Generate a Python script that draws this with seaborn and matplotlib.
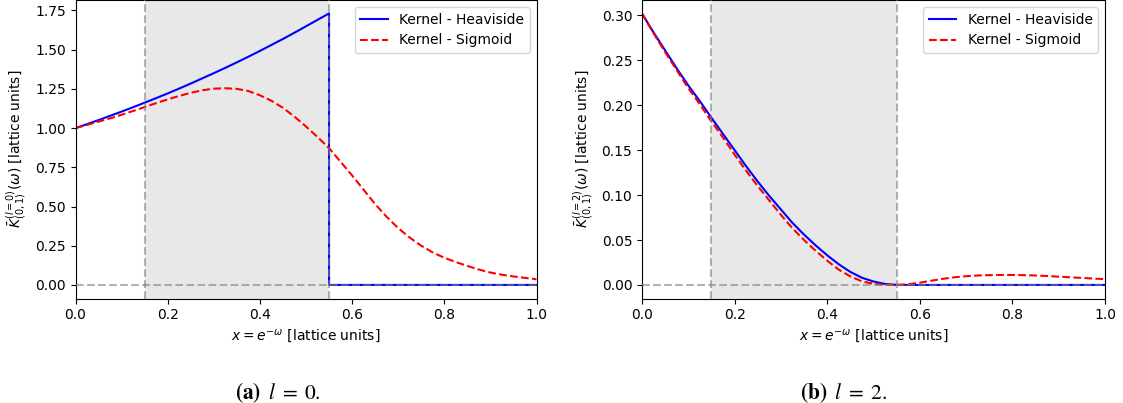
import numpy as np
import pandas as pd
import matplotlib
matplotlib.use("Agg")
import matplotlib.pyplot as plt
import seaborn as sns

# ---- data ----
x_grid = [0.000, 0.025, 0.050, 0.075, 0.100, 0.125, 0.150, 0.175, 0.200, 0.225,
          0.250, 0.275, 0.300, 0.325, 0.350, 0.375, 0.400, 0.425, 0.450, 0.475,
          0.500, 0.525, 0.550, 0.575, 0.600, 0.625, 0.650, 0.675, 0.700, 0.725,
          0.750, 0.775, 0.800, 0.825, 0.850, 0.875, 0.900, 0.925, 0.950, 0.975,
          1.000]

# l = 0, Heaviside kernel (drops to zero at x = 0.55)
x_h0 = [0.000, 0.025, 0.050, 0.075, 0.100, 0.125, 0.150, 0.175, 0.200, 0.225,
        0.250, 0.275, 0.300, 0.325, 0.350, 0.375, 0.400, 0.425, 0.450, 0.475,
        0.500, 0.525, 0.550, 0.550, 0.600, 0.700, 0.800, 0.900, 1.000]
y_h0 = [1.000, 1.025, 1.051, 1.078, 1.105, 1.133, 1.162, 1.191, 1.221, 1.252,
        1.284, 1.317, 1.350, 1.384, 1.419, 1.455, 1.492, 1.530, 1.568, 1.608,
        1.649, 1.690, 1.731, 0.000, 0.000, 0.000, 0.000, 0.000, 0.000]

# l = 0, Sigmoid kernel
y_s0 = [1.000, 1.020, 1.041, 1.062, 1.085, 1.109, 1.134, 1.159, 1.183, 1.205,
        1.225, 1.241, 1.251, 1.254, 1.250, 1.236, 1.209, 1.174, 1.129, 1.073,
        1.010, 0.943, 0.872, 0.785, 0.698, 0.607, 0.515, 0.434, 0.362, 0.302,
        0.250, 0.207, 0.173, 0.146, 0.121, 0.098, 0.079, 0.065, 0.054, 0.045,
        0.036]

# l = 2, Heaviside kernel
x_h2 = [0.000, 0.025, 0.050, 0.075, 0.100, 0.125, 0.150, 0.175, 0.200, 0.225,
        0.250, 0.275, 0.300, 0.325, 0.350, 0.375, 0.400, 0.425, 0.450, 0.475,
        0.500, 0.525, 0.550, 0.600, 0.700, 0.800, 0.900, 1.000]
y_h2 = [0.302, 0.281, 0.261, 0.241, 0.222, 0.2045, 0.186, 0.168, 0.150, 0.132,
        0.115, 0.099, 0.084, 0.069, 0.056, 0.044, 0.033, 0.023, 0.0145, 0.008,
        0.0038, 0.0011, 0.000, 0.000, 0.000, 0.000, 0.000, 0.000]

# l = 2, Sigmoid kernel
y_s2 = [0.302, 0.280, 0.259, 0.239, 0.219, 0.201, 0.182, 0.164, 0.145, 0.127,
        0.110, 0.094, 0.078, 0.063, 0.050, 0.038, 0.027, 0.017, 0.0095, 0.004,
        0.0012, 0.0002, 0.000, 0.0008, 0.0025, 0.0047, 0.0068, 0.0085, 0.0097, 0.0105,
        0.0109, 0.0111, 0.0111, 0.0109, 0.0105, 0.0099, 0.0092, 0.0085, 0.0078, 0.0071,
        0.0064]

span = (0.15, 0.55)
labels = ["Kernel - Heaviside", "Kernel - Sigmoid"]
ylabels = [r"$\bar{K}^{(l=0)}_{(0,1)}(\omega)$ [lattice units]",
           r"$\bar{K}^{(l=2)}_{(0,1)}(\omega)$ [lattice units]"]
xlabel = r"$x = e^{-\omega}$ [lattice units]"
captions = [r"$\mathbf{(a)}\;\; l \;=\; 0.$", r"$\mathbf{(b)}\;\; l \;=\; 2.$"]
yticks = [[0.00, 0.25, 0.50, 0.75, 1.00, 1.25, 1.50, 1.75],
          [0.00, 0.05, 0.10, 0.15, 0.20, 0.25, 0.30]]

plt.rcParams["font.family"] = ["DejaVu Sans"]

W, H = 1123, 403
fig = plt.figure(figsize=(W / 100, H / 100), dpi=100)
ax1 = fig.add_axes([75.5 / W, 1 - 298.5 / H, 461 / W, 298.5 / H])
ax2 = fig.add_axes([642 / W, 1 - 298.5 / H, 463 / W, 298.5 / H])

panels = [(ax1, x_h0, y_h0, x_grid, y_s0), (ax2, x_h2, y_h2, x_grid, y_s2)]
for i, (ax, xh, yh, xs, ys) in enumerate(panels):
    ax.axvspan(span[0], span[1], color="lightgray", alpha=0.5, lw=0, zorder=0)
    dh = pd.DataFrame({"x": xh, "y": yh})
    ds = pd.DataFrame({"x": xs, "y": ys})
    sns.lineplot(data=dh, x="x", y="y", ax=ax, color="blue", lw=1.5,
                 sort=False, estimator=None, label=labels[0])
    sns.lineplot(data=ds, x="x", y="y", ax=ax, color="red", lw=1.5,
                 linestyle="--", sort=False, estimator=None, label=labels[1])
    ax.axvline(span[0], color="gray", ls="--", alpha=0.6, lw=1.5, zorder=3)
    ax.axvline(span[1], color="gray", ls="--", alpha=0.6, lw=1.5, zorder=3)
    ax.axhline(0, color="gray", ls="--", alpha=0.6, lw=1.5, zorder=3)
    ax.set_xlim(0, 1)
    ax.set_yticks(yticks[i])
    ax.set_yticklabels([f"{v:.2f}" for v in yticks[i]])
    ax.set_xlabel(xlabel, fontsize=10)
    ax.set_ylabel(ylabels[i], fontsize=10)
    ax.tick_params(labelsize=10)
    ax.legend(loc="upper right", fontsize=10)

ax1.set_ylim(-0.0865, 1.8165)
ax2.set_ylim(-0.0151, 0.3171)

fig.text(277.5 / W, 1 - 399 / H, captions[0], ha="center", va="baseline",
         fontsize=15.5, math_fontfamily="stix")
fig.text(844 / W, 1 - 399 / H, captions[1], ha="center", va="baseline",
         fontsize=15.5, math_fontfamily="stix")

fig.savefig("out.png", dpi=100)
